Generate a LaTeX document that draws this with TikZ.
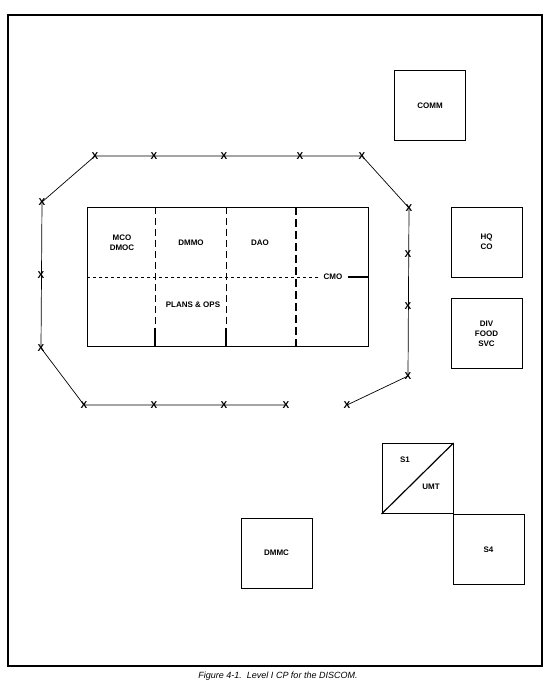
\documentclass[tikz,border=0pt]{standalone}
\usepackage{fontspec}
\setmainfont{Liberation Sans}
\usetikzlibrary{positioning,calc}

\begin{document}
\begin{tikzpicture}[x=1pt,y=-1pt]
\tikzset{
  area/.style={draw, line width=1pt, minimum width=71pt, minimum height=70pt, inner sep=0pt, font=\fontsize{8}{10}\selectfont\bfseries, align=center},
  lbl/.style={font=\fontsize{8}{10}\selectfont\bfseries, align=center, inner sep=1pt},
  post/.style={inner sep=0pt, font=\fontsize{10}{10}\selectfont\bfseries}
}
\useasboundingbox (0,0) rectangle (550,687);

% Outer frame
\draw[line width=1.2pt] (8,15) rectangle (542,666);

% Wire fence posts (X marks)
\foreach \n/\x/\y in {t1/95/156, t2/154/156, t3/224/156, t4/300/156, t5/362/156,
                      r1/409/208, r2/408/254, r3/408/306, r4/408/376,
                      b1/84/405, b2/154/405, b3/224/405, b4/286/405, b5/347/405,
                      l1/42/202, l2/41/275, l3/41/348}
  \node[post] (\n) at (\x,\y) {X};

% Wire between posts (gap at the bottom right)
\draw[line width=0.7pt] (t1.center) -- (t5.center) -- (r1.center) -- (r4.center) -- (b5.center);
\draw[line width=0.7pt] (b4.center) -- (b1.center) -- (l3.center) -- (l1.center) -- (t1.center);

% Command post tent block
\node[draw, line width=1pt, minimum width=281pt, minimum height=139pt, inner sep=0pt] (cp) at (227.5,276.5) {};
\draw[line width=0.8pt, dash pattern=on 7pt off 4pt] (155,207) -- (155,328);
\draw[line width=0.8pt, dash pattern=on 7pt off 4pt] (226,207) -- (226,328);
\draw[line width=1.2pt] (155,328) -- (155,346);
\draw[line width=1.2pt] (226,328) -- (226,346);
\draw[line width=1.1pt, dash pattern=on 8pt off 4pt] (296,207) -- (296,346);
\draw[line width=0.8pt, dash pattern=on 3pt off 3pt] (87,277) -- (318,277);
\draw[line width=1.2pt] (348,277) -- (368,277);

\node[lbl] (mco) at (122,243) {MCO\\DMOC};
\node[lbl] (dmmo) at (191,243) {DMMO};
\node[lbl] (dao) at (260,243) {DAO};
\node[lbl] (plans) at (193,305) {PLANS \& OPS};
\node[lbl] (cmo) at (333,277) {CMO};

% Separate sections
\node[area] (comm) at (430,105.5) {COMM};
\node[area] (hq) at (486.5,242) {HQ\\CO};
\node[area] (food) at (486.5,333.5) {DIV\\FOOD\\SVC};
\node[area] (umt) at (417.5,478.5) {};
\draw[line width=1.2pt] (umt.south west) -- (umt.north east);
\node[lbl] (s1) at (405,460) {S1};
\node[lbl] (umtlbl) at (431,487) {UMT};
\node[area] (s4) at (488.5,549.5) {S4};
\node[area] (dmmc) at (276.5,553) {DMMC};

% Caption
\node[font=\fontsize{9}{11}\selectfont\itshape] (cap) at (278,676) {Figure 4-1.\ \ Level I CP for the DISCOM.};
\end{tikzpicture}
\end{document}
